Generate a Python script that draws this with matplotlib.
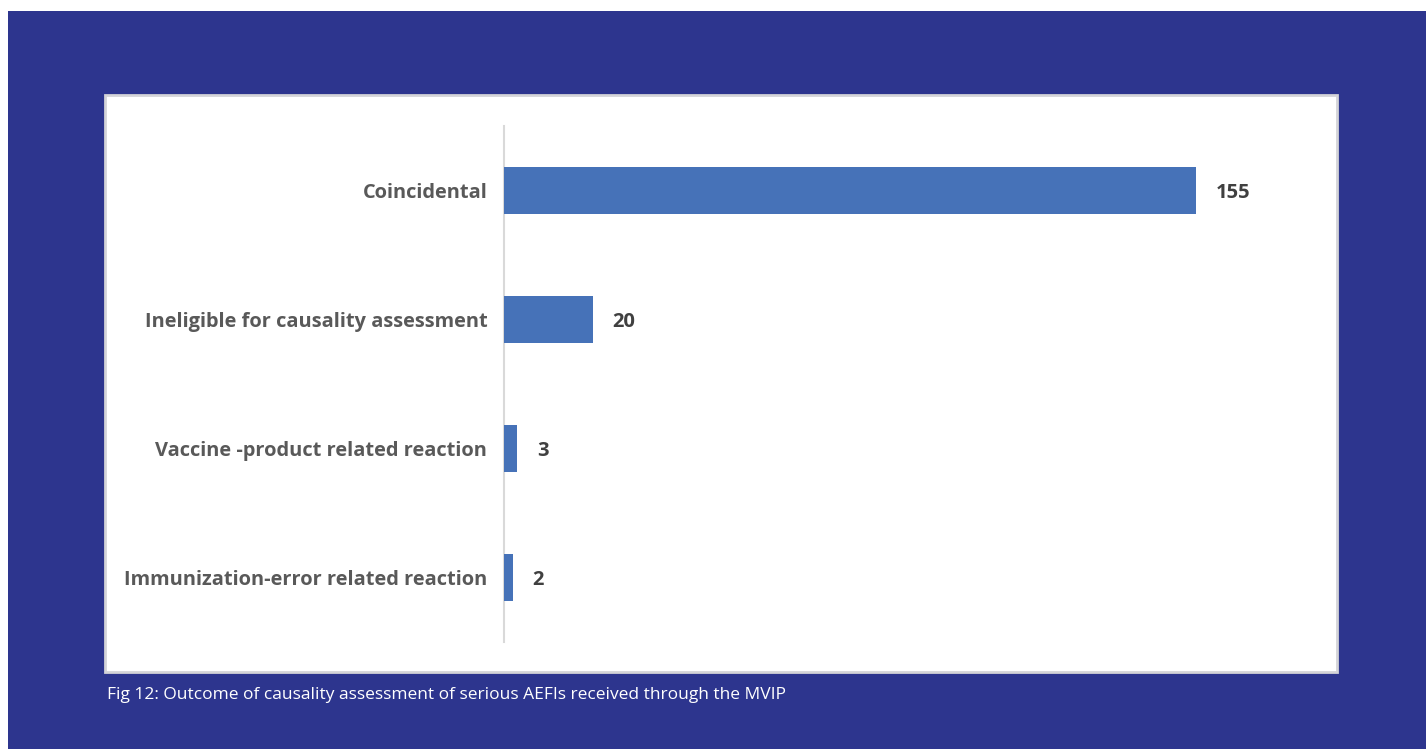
import matplotlib.pyplot as plt
from matplotlib.patches import Rectangle

categories = ['Immunization-error related reaction',
              'Vaccine -product related reaction',
              'Ineligible for causality assessment',
              'Coincidental']
counts = [2, 3, 20, 155]
caption = 'Fig 12: Outcome of causality assessment of serious AEFIs received through the MVIP'

W, H = 1426, 749
NAVY = '#2d358e'
BAR = '#4672b8'

fig = plt.figure(figsize=(W / 100, H / 100), dpi=100)
fig.patch.set_facecolor('white')

# navy backdrop and white chart panel
fig.add_artist(Rectangle((8 / W, 0), 1 - 8 / W, 1 - 11 / H,
                         transform=fig.transFigure, facecolor=NAVY,
                         edgecolor='none', zorder=0))
fig.add_artist(Rectangle((105 / W, 1 - 672 / H), (1337 - 105) / W, (672 - 95) / H,
                         transform=fig.transFigure, facecolor='white',
                         edgecolor='#d4d4d8', linewidth=2, zorder=1))

# axes: left spine at x=504, from y=126 to 642
ax_left, ax_right = 504, 1310
ax_top, ax_bot = 126, 642
ax = fig.add_axes([ax_left / W, 1 - ax_bot / H, (ax_right - ax_left) / W,
                   (ax_bot - ax_top) / H])
ax.set_facecolor('none')
ax.set_zorder(2)

y = range(len(categories))
ax.barh(y, counts, height=0.36, color=BAR, zorder=3)
px_per_unit = (1196 - 504) / 155
ax.set_xlim(0, (ax_right - ax_left) / px_per_unit)
ax.set_ylim(-0.5, len(categories) - 0.5)

for yi, v in zip(y, counts):
    ax.annotate(str(v), (v, yi), xytext=(14, 0), textcoords='offset points',
                va='center_baseline', ha='left', fontsize=14.5, fontweight='bold',
                color='#404040', family='Open Sans')

ax.set_yticks(list(y))
ax.set_yticklabels(categories, fontsize=14.4, fontweight='bold',
                   color='#595959', family='Open Sans', va='center_baseline')
ax.tick_params(axis='y', length=0, pad=12)
ax.set_xticks([])
for side in ['top', 'right', 'bottom']:
    ax.spines[side].set_visible(False)
ax.spines['left'].set_color('#d9d9d9')
ax.spines['left'].set_linewidth(1.5)

fig.text(107 / W, 1 - 695 / H, caption, color='white', fontsize=12.5,
         va='center', ha='left', family='Open Sans')

fig.savefig('out.png', dpi=100, facecolor=fig.get_facecolor())
